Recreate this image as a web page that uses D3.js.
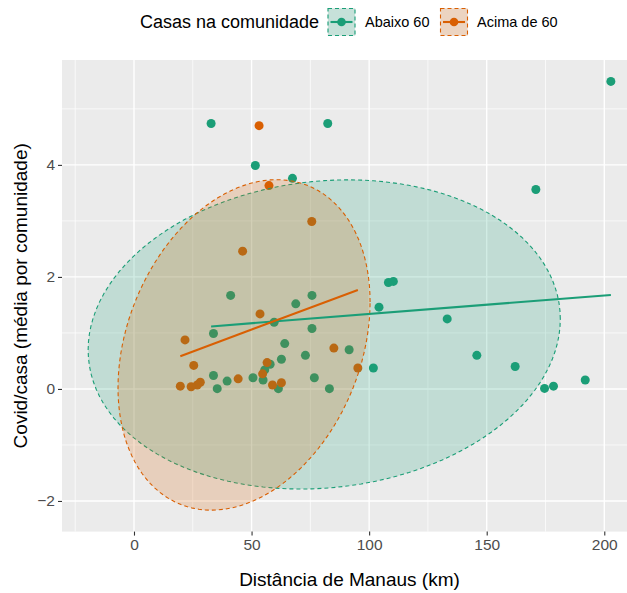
<!DOCTYPE html>
<html>
<head>
<meta charset="utf-8">
<script src="https://cdn.jsdelivr.net/npm/d3@7"></script>
<style>
  body { margin: 0; background: #ffffff; }
  text { font-family: "Liberation Sans", Arial, sans-serif; }
</style>
</head>
<body>
<svg id="chart" width="627" height="593"></svg>
<script>
// Groups (houses per community) and their colours
const groups = ["Abaixo 60", "Acima de 60"];
const groupColors = ["#1B9E77", "#D95F02"];

// Communities with fewer than 60 houses: distance (km) and covid per house
const abaixoDist = [32.8, 82.4, 51.6, 67.4, 202.8, 170.9, 41.1, 68.8, 75.7, 59.6, 75.7, 33.8,
  64.1, 91.5, 72.9, 62.7, 57.9, 55.6, 101.8, 33.8, 76.7, 50.6, 54.9, 39.6, 35.4, 61.4, 83.1,
  104.2, 108.2, 110.3, 133.2, 145.8, 162.1, 174.6, 178.4, 191.9];
const abaixoCovid = [4.74, 4.74, 3.99, 3.76, 5.49, 3.56, 1.67, 1.52, 1.67, 1.19, 1.08, 0.99,
  0.81, 0.70, 0.60, 0.53, 0.44, 0.34, 0.375, 0.24, 0.20, 0.20, 0.16, 0.14, 0.005, 0.005, 0.005,
  1.46, 1.90, 1.92, 1.25, 0.60, 0.40, 0.01, 0.05, 0.16];

// Communities with 60 houses or more
const acimaDist = [53.2, 57.4, 75.6, 46.2, 53.6, 21.7, 85.0, 25.4, 56.6, 95.2, 54.7, 44.3,
  28.2, 26.9, 24.3, 19.7, 58.9, 62.7];
const acimaCovid = [4.70, 3.63, 2.99, 2.46, 1.34, 0.875, 0.73, 0.42, 0.47, 0.375, 0.27, 0.18,
  0.12, 0.07, 0.04, 0.05, 0.07, 0.11];

// 95% ellipses per group: centre, half extents along each axis and correlation
const ellipseCenterX = [80.9, 46.8];
const ellipseCenterY = [0.973, 0.786];
const ellipseHalfX = [100.4, 53.6];
const ellipseHalfY = [2.76, 2.95];
const ellipseCorr = [0.10, 0.26];

const xTicks = [0, 50, 100, 150, 200];
const yTicks = [-2, 0, 2, 4];
const xMinor = [-25, 25, 75, 125, 175, 225];
const yMinor = [-3, -1, 1, 3, 5];

const legendTitle = "Casas na comunidade";
const xTitle = "Distância de Manaus (km)";
const yTitle = "Covid/casa (média por comunidade)";

const seriesX = [abaixoDist, acimaDist];
const seriesY = [abaixoCovid, acimaCovid];

// Ellipse outlines in data units
function ellipsePath(g, n = 120) {
  const pts = [];
  const r = ellipseCorr[g], s = Math.sqrt(1 - r * r);
  for (let i = 0; i <= n; i++) {
    const t = 2 * Math.PI * i / n;
    pts.push([
      ellipseCenterX[g] + ellipseHalfX[g] * Math.cos(t),
      ellipseCenterY[g] + ellipseHalfY[g] * (r * Math.cos(t) + s * Math.sin(t))
    ]);
  }
  return pts;
}

// Ordinary least squares fit over the group's range
function linearFit(xs, ys) {
  const mx = d3.mean(xs), my = d3.mean(ys);
  let sxy = 0, sxx = 0;
  xs.forEach((x, i) => { sxy += (x - mx) * (ys[i] - my); sxx += (x - mx) * (x - mx); });
  const b = sxy / sxx, a = my - b * mx;
  const x0 = d3.min(xs), x1 = d3.max(xs);
  return [[x0, a + b * x0], [x1, a + b * x1]];
}

const ellipses = groups.map((_, g) => ellipsePath(g));
const fits = groups.map((_, g) => linearFit(seriesX[g], seriesY[g]));

// Scale limits: data plus ellipses, expanded by 5%
const allX = seriesX.flat().concat(ellipses.flat().map(p => p[0]));
const allY = seriesY.flat().concat(ellipses.flat().map(p => p[1]));
function expand(v) {
  const lo = d3.min(v), hi = d3.max(v), pad = (hi - lo) * 0.05;
  return [lo - pad, hi + pad];
}

const svg = d3.select("#chart");
const panel = { left: 62, top: 60, right: 637, bottom: 531.6 };

const x = d3.scaleLinear().domain(expand(allX)).range([panel.left, panel.right]);
const y = d3.scaleLinear().domain(expand(allY)).range([panel.bottom, panel.top]);

// Panel background
svg.append("rect")
  .attr("x", panel.left).attr("y", panel.top)
  .attr("width", panel.right - panel.left).attr("height", panel.bottom - panel.top)
  .attr("fill", "#EBEBEB");

const grid = svg.append("g");
const inX = v => x(v) >= panel.left && x(v) <= panel.right;
const inY = v => y(v) >= panel.top && y(v) <= panel.bottom;
grid.selectAll(".vminor").data(xMinor.filter(inX)).join("line")
  .attr("x1", d => x(d)).attr("x2", d => x(d))
  .attr("y1", panel.top).attr("y2", panel.bottom)
  .attr("stroke", "#ffffff").attr("stroke-width", 0.7);
grid.selectAll(".hminor").data(yMinor.filter(inY)).join("line")
  .attr("y1", d => y(d)).attr("y2", d => y(d))
  .attr("x1", panel.left).attr("x2", panel.right)
  .attr("stroke", "#ffffff").attr("stroke-width", 0.7);
grid.selectAll(".vmajor").data(xTicks).join("line")
  .attr("x1", d => x(d)).attr("x2", d => x(d))
  .attr("y1", panel.top).attr("y2", panel.bottom)
  .attr("stroke", "#ffffff").attr("stroke-width", 1.4);
grid.selectAll(".hmajor").data(yTicks).join("line")
  .attr("y1", d => y(d)).attr("y2", d => y(d))
  .attr("x1", panel.left).attr("x2", panel.right)
  .attr("stroke", "#ffffff").attr("stroke-width", 1.4);

// Points
groups.forEach((_, g) => {
  svg.append("g").selectAll("circle")
    .data(seriesX[g].map((d, i) => [d, seriesY[g][i]]))
    .join("circle")
    .attr("cx", d => x(d[0])).attr("cy", d => y(d[1]))
    .attr("r", 4.5)
    .attr("fill", groupColors[g]);
});

// Ellipses
const line = d3.line().x(d => x(d[0])).y(d => y(d[1]));
groups.forEach((_, g) => {
  svg.append("path")
    .attr("d", line(ellipses[g]) + "Z")
    .attr("fill", groupColors[g]).attr("fill-opacity", 0.2)
    .attr("stroke", groupColors[g]).attr("stroke-width", 1.1)
    .attr("stroke-dasharray", "4,3");
});

// Regression lines
groups.forEach((_, g) => {
  svg.append("path")
    .attr("d", line(fits[g]))
    .attr("fill", "none")
    .attr("stroke", groupColors[g]).attr("stroke-width", 2.1);
});

// Axes
const xAxis = d3.axisBottom(x).tickValues(xTicks).tickSize(4).tickPadding(3).tickFormat(d3.format("d"));
const yAxis = d3.axisLeft(y).tickValues(yTicks).tickSize(4).tickPadding(3).tickFormat(d3.format("d"));
const gx = svg.append("g").attr("transform", `translate(0,${panel.bottom})`).call(xAxis);
const gy = svg.append("g").attr("transform", `translate(${panel.left},0)`).call(yAxis);
[gx, gy].forEach(ax => {
  ax.select(".domain").remove();
  ax.selectAll(".tick line").attr("stroke", "#333333").attr("stroke-width", 1.1);
  ax.selectAll(".tick text").attr("fill", "#4D4D4D").attr("font-size", 15.5)
    .attr("font-family", "'Liberation Sans', Arial, sans-serif");
});

// Axis titles
svg.append("text")
  .attr("x", (panel.left + panel.right) / 2).attr("y", 586)
  .attr("text-anchor", "middle").attr("font-size", 19).attr("fill", "#000")
  .text(xTitle);
svg.append("text")
  .attr("transform", `translate(27,${(panel.top + panel.bottom) / 2}) rotate(-90)`)
  .attr("text-anchor", "middle").attr("font-size", 19).attr("fill", "#000")
  .text(yTitle);

// Legend
const legend = svg.append("g");
legend.append("text").attr("x", 140).attr("y", 28)
  .attr("font-size", 18).attr("fill", "#000").text(legendTitle);
const keyX = [327.5, 440];
const labelX = [365, 477];
const keySize = 28, keyTop = 8;
groups.forEach((name, g) => {
  const k = legend.append("g").attr("transform", `translate(${keyX[g]},${keyTop})`);
  k.append("rect").attr("width", keySize).attr("height", keySize).attr("fill", "#F2F2F2");
  k.append("rect").attr("x", 0.5).attr("y", 0.5)
    .attr("width", keySize - 1).attr("height", keySize - 1)
    .attr("fill", groupColors[g]).attr("fill-opacity", 0.2)
    .attr("stroke", groupColors[g]).attr("stroke-width", 1.1).attr("stroke-dasharray", "4,3");
  k.append("line").attr("x1", 3).attr("x2", keySize - 3)
    .attr("y1", keySize / 2).attr("y2", keySize / 2)
    .attr("stroke", groupColors[g]).attr("stroke-width", 2.1);
  k.append("circle").attr("cx", keySize / 2).attr("cy", keySize / 2).attr("r", 4.3)
    .attr("fill", groupColors[g]);
  legend.append("text").attr("x", labelX[g]).attr("y", 27)
    .attr("font-size", 14.5).attr("fill", "#000").text(name);
});
</script>
</body>
</html>
